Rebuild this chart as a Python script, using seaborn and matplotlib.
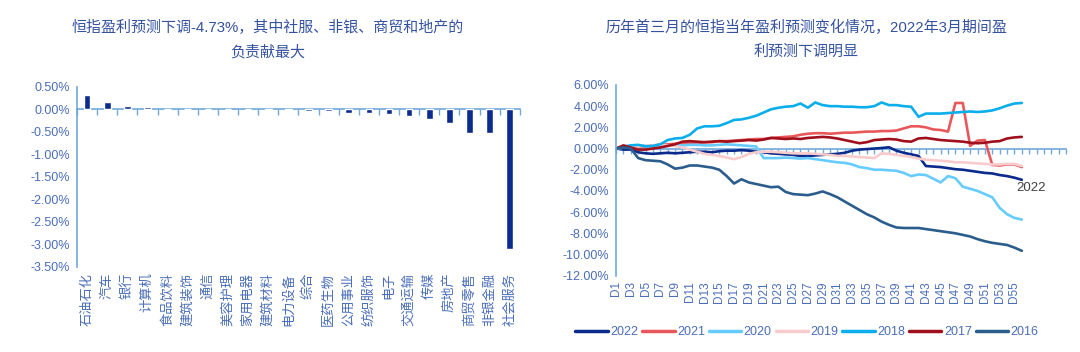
import numpy as np
import pandas as pd
import seaborn as sns
import matplotlib.pyplot as plt
from matplotlib.ticker import FuncFormatter
from matplotlib.lines import Line2D

# left chart: industry contribution to HSI earnings revision (%)
industries = ['石油石化', '汽车', '银行', '计算机', '食品饮料', '建筑装饰', '通信', '美容护理',
              '家用电器', '建筑材料', '电力设备', '综合', '医药生物', '公用事业', '纺织服饰',
              '电子', '交通运输', '传媒', '房地产', '商贸零售', '非银金融', '社会服务']
contrib = [0.31, 0.155, 0.07, 0.05, 0.005, 0.0, 0.0, 0.0, 0.0, -0.005,
           -0.02, -0.04, -0.04, -0.08, -0.08, -0.10, -0.15, -0.21, -0.30, -0.52, -0.53, -3.10]

# right chart: cumulative change of forecast by trading day (%)
years = ['2022', '2021', '2020', '2019', '2018', '2017', '2016']
y2022 = [0, -0.1, -0.1, -0.35, -0.45, -0.5, -0.45, -0.4, -0.45, -0.4, -0.35, -0.3, -0.3, -0.35,
         -0.25, -0.2, -0.2, -0.15, -0.2, -0.3, -0.35, -0.45, -0.5, -0.55, -0.6, -0.7, -0.7, -0.65,
         -0.6, -0.55, -0.5, -0.4, -0.2, -0.1, -0.05, 0.0, 0.05, 0.12, -0.2, -0.4, -0.55, -0.7,
         -1.65, -1.7, -1.75, -1.85, -1.95, -2.0, -2.1, -2.2, -2.3, -2.35, -2.5, -2.6, -2.75, -2.95]
y2021 = [0, 0.1, 0.2, 0.15, 0.2, 0.3, 0.35, 0.4, 0.45, 0.5, 0.55, 0.5, 0.6, 0.6,
         0.7, 0.7, 0.75, 0.8, 0.85, 0.9, 0.9, 1.0, 1.05, 1.1, 1.15, 1.3, 1.4, 1.45,
         1.45, 1.4, 1.45, 1.5, 1.5, 1.55, 1.6, 1.6, 1.65, 1.65, 1.7, 1.9, 2.1, 2.1,
         2.0, 1.8, 1.75, 1.6, 4.3, 4.3, 0.25, 0.75, 0.8, -1.55, -1.6, -1.5, -1.5, -1.75]
y2020 = [0, 0.2, 0.3, 0.3, 0.25, 0.2, 0.2, 0.25, 0.3, 0.3, 0.35, 0.35, 0.3, 0.3,
         0.35, 0.4, 0.35, 0.3, 0.25, 0.2, -0.9, -0.9, -0.9, -0.85, -0.9, -0.95, -0.9, -1.0,
         -1.1, -1.2, -1.3, -1.35, -1.5, -1.75, -1.85, -2.0, -2.0, -2.05, -2.1, -2.3, -2.6, -2.45,
         -2.5, -2.85, -3.2, -2.6, -2.8, -3.6, -3.8, -4.0, -4.3, -4.6, -5.6, -6.2, -6.55, -6.7]
y2019 = [0, 0.1, 0.2, 0.2, 0.25, 0.3, 0.35, 0.3, 0.25, 0.1, -0.1, -0.3, -0.5, -0.6,
         -0.7, -0.85, -1.0, -0.8, -0.5, -0.35, -0.3, -0.3, -0.35, -0.4, -0.45, -0.45, -0.45, -0.5,
         -0.55, -0.6, -0.7, -0.7, -0.75, -0.8, -0.85, -0.9, -0.45, -0.5, -0.6, -0.7, -0.8, -0.95,
         -1.05, -1.1, -1.15, -1.2, -1.3, -1.3, -1.35, -1.4, -1.45, -1.5, -1.5, -1.45, -1.45, -1.65]
y2018 = [0, 0.1, 0.3, 0.35, 0.2, 0.25, 0.4, 0.8, 0.95, 1.0, 1.3, 1.9, 2.1, 2.1,
         2.15, 2.4, 2.7, 2.75, 2.9, 3.1, 3.4, 3.7, 3.85, 3.95, 4.0, 4.25, 3.85, 4.35,
         4.1, 4.0, 4.0, 3.95, 3.95, 3.9, 3.9, 4.0, 4.35, 4.1, 4.1, 4.0, 3.95, 3.0,
         3.3, 3.3, 3.3, 3.35, 3.4, 3.45, 3.5, 3.45, 3.5, 3.6, 3.8, 4.05, 4.25, 4.3]
y2017 = [0, 0.3, 0.1, -0.1, -0.1, 0.0, 0.1, 0.25, 0.4, 0.65, 0.7, 0.65, 0.6, 0.65,
         0.7, 0.65, 0.7, 0.75, 0.8, 0.75, 0.85, 1.0, 0.95, 0.9, 0.95, 0.9, 1.0, 1.05,
         1.1, 1.05, 0.95, 0.8, 0.65, 0.5, 0.6, 0.8, 0.85, 0.9, 0.85, 0.7, 0.65, 0.95,
         1.0, 0.9, 0.8, 0.75, 0.7, 0.65, 0.55, 0.5, 0.55, 0.65, 0.7, 0.95, 1.05, 1.1]
y2016 = [0, 0.1, 0.0, -0.9, -1.1, -1.15, -1.2, -1.5, -1.9, -1.8, -1.6, -1.6, -1.7, -1.8,
         -2.0, -2.6, -3.3, -2.9, -3.2, -3.35, -3.5, -3.65, -3.6, -4.1, -4.3, -4.35, -4.4, -4.25,
         -4.05, -4.3, -4.6, -5.0, -5.4, -5.8, -6.2, -6.5, -6.9, -7.2, -7.45, -7.5, -7.5, -7.5,
         -7.6, -7.7, -7.8, -7.9, -8.0, -8.15, -8.3, -8.55, -8.75, -8.9, -9.0, -9.1, -9.35, -9.65]
series = [y2022, y2021, y2020, y2019, y2018, y2017, y2016]
colors = ['#0A2A8C', '#E8585A', '#66CCFF', '#F8CCCC', '#0AAEEA', '#A0101C', '#2B5D8C']
n_slots = 62  # axis keeps empty categories after D56

sns.set_theme(style='white')
plt.rcParams['font.family'] = ['Liberation Sans', 'Noto Sans CJK SC']

txt_col = '#4A6EB8'
title_col = '#3452A0'
ax_col = '#6FA8DC'
pct = FuncFormatter(lambda v, p: f'{v:.2f}%')

fig = plt.figure(figsize=(10.8, 3.52), dpi=100)

# ---- left: bars
ax1 = fig.add_axes([0.0713, 0.2415, 0.410, 0.512])
sns.barplot(x=industries, y=contrib, color='#0B2C8E', saturation=1, width=0.33, ax=ax1)
ax1.set_xlim(-0.5, len(industries) - 0.5)
ax1.set_ylim(-3.5, 0.5)
ax1.set_yticks(np.arange(-3.5, 0.51, 0.5))
ax1.yaxis.set_major_formatter(pct)
ax1.tick_params(axis='y', direction='out', length=3, width=1, color=ax_col, labelcolor=txt_col, labelsize=9, pad=2)
ax1.tick_params(axis='x', length=0, labelcolor=txt_col, labelsize=9.5, rotation=90, pad=4)
for s in ['top', 'right', 'bottom']:
    ax1.spines[s].set_visible(False)
ax1.spines['left'].set_color(ax_col)
ax1.spines['left'].set_linewidth(1.2)
ax1.set_xlabel('')
sec1 = ax1.secondary_xaxis(0.875)
sec1.set_xticks(np.arange(-0.5, len(industries), 1))
sec1.tick_params(direction='in', length=4, width=1, color=ax_col, labeltop=False, labelbottom=False)
for s in sec1.spines.values():
    s.set_color(ax_col)
    s.set_linewidth(1.2)

fig.text(0.248, 1 - 27 / 352, '恒指盈利预测下调-4.73%，其中社服、非银、商贸和地产的',
         ha='center', va='center', fontsize=10.8, color=title_col)
fig.text(0.248, 1 - 52 / 352, '负责献最大', ha='center', va='center', fontsize=10.8, color=title_col)

# ---- right: lines
days = [f'D{i}' for i in range(1, len(y2022) + 1)]
df = pd.DataFrame({
    'day': np.tile(np.arange(len(days)), len(years)),
    'value': np.concatenate(series),
    'year': np.repeat(years, len(days)),
})
ax2 = fig.add_axes([0.5704, 0.2168, 0.4167, 0.5418])
sns.lineplot(data=df, x='day', y='value', hue='year', hue_order=years,
             palette=dict(zip(years, colors)), linewidth=1.9, legend=False, ax=ax2)
ax2.set_xlim(0, n_slots - 1)
ax2.set_ylim(-12, 6)
ax2.set_yticks(np.arange(-12, 6.1, 2))
ax2.yaxis.set_major_formatter(pct)
ax2.set_xticks(np.arange(0, len(days), 2))
ax2.set_xticklabels(days[::2])
ax2.tick_params(axis='y', direction='out', length=3, width=1, color=ax_col, labelcolor=txt_col, labelsize=9, pad=2)
ax2.tick_params(axis='x', length=0, labelcolor=txt_col, labelsize=8.5, rotation=90, pad=4)
for s in ['top', 'right', 'bottom']:
    ax2.spines[s].set_visible(False)
ax2.spines['left'].set_color(ax_col)
ax2.spines['left'].set_linewidth(1.2)
ax2.set_xlabel('')
ax2.set_ylabel('')
sec2 = ax2.secondary_xaxis(12 / 18)
sec2.set_xticks(np.arange(0, n_slots))
sec2.tick_params(direction='in', length=3.5, width=1, color=ax_col, labeltop=False, labelbottom=False)
for s in sec2.spines.values():
    s.set_color(ax_col)
    s.set_linewidth(1.2)
sec2.set_zorder(0)
ax2.text(56.3, -3.7, '2022', ha='center', va='center', fontsize=9.5, color='#404040')

fig.text(806 / 1080, 1 - 27 / 352, '历年首三月的恒指当年盈利预测变化情况，2022年3月期间盈',
         ha='center', va='center', fontsize=10.8, color=title_col)
fig.text(806 / 1080, 1 - 52 / 352, '利预测下调明显', ha='center', va='center', fontsize=10.8, color=title_col)

handles = [Line2D([], [], color=c, linewidth=2.5) for c in colors]
leg = fig.legend(handles, years, loc='center', bbox_to_anchor=(807 / 1080, 1 - 332 / 352), ncol=7,
                 frameon=False, fontsize=9, handlelength=2.6, handletextpad=0.2, columnspacing=0.3)
for t in leg.get_texts():
    t.set_color(txt_col)

plt.savefig('out.png', dpi=100)
